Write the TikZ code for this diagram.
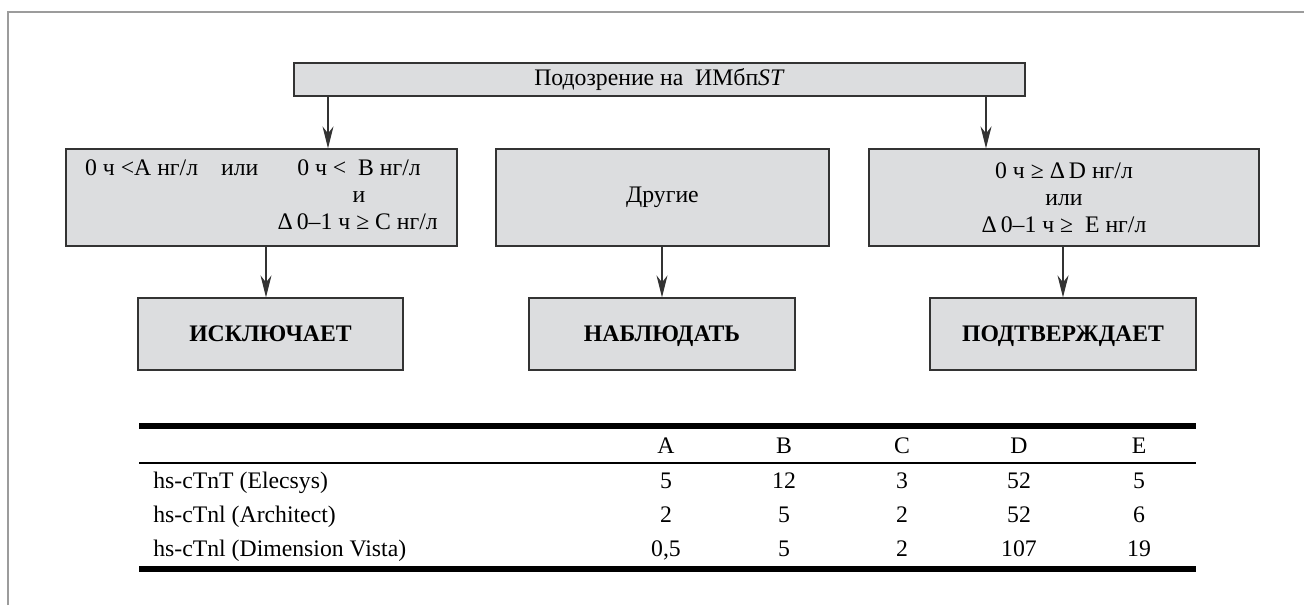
\documentclass[tikz,border=0pt]{standalone}
\usepackage{fontspec}
\setmainfont{Liberation Serif}
\usetikzlibrary{arrows.meta}

\definecolor{boxgray}{HTML}{DCDDDF}
\definecolor{framegray}{HTML}{9C9C9C}
\definecolor{edgegray}{HTML}{333333}

\begin{document}
\begin{tikzpicture}[x=0.02cm,y=-0.02cm,
              box/.style={draw=edgegray,fill=boxgray,line width=0.7pt,inner sep=0pt,
                align=center,font=\fontsize{13.5}{15.3}\selectfont},
              result/.style={box,minimum height=1.44cm,text height=9pt,text depth=0pt,
                font=\fontsize{13.5}{15.3}\selectfont\bfseries},
              arr/.style={draw=edgegray,line width=0.6pt,
                -{Stealth[length=0.44cm,width=0.22cm,inset=0.14cm]}},
              cell/.style={inner sep=0pt,anchor=base,font=\fontsize{13.5}{15.3}\selectfont}]
              \useasboundingbox (0,0) rectangle (1304,605);
              \draw[framegray,line width=1.4pt] (8,605) -- (8,12) -- (1304,12);
              \node[box,minimum width=14.62cm,minimum height=0.66cm] (Top) at (659.5,79.5)
                {Подозрение на\ \ ИМбп\textit{ST}};
              \node[box,minimum width=7.82cm,minimum height=1.94cm] (Excl) at (261.5,197.5)
                {\begin{tabular}{@{}l@{\hspace{0.46cm}}l@{\hspace{0.78cm}}c@{\hspace{0.34cm}}}
                  0 ч <A нг/л & или & 0 ч <\enspace B нг/л\\
                  & & и\\
                  \multicolumn{3}{@{}r@{}}{Δ\,0–1 ч ≥ C нг/л}
                 \end{tabular}};
              \node[box,minimum width=6.66cm,minimum height=1.94cm] (Other) at (662.5,197.5) {Другие};
              \node[box,minimum width=7.8cm,minimum height=1.94cm] (Conf) at (1064,197.5)
                {0 ч ≥ Δ\,D нг/л\\или\\Δ\,0–1 ч ≥\ \ E нг/л};
              \node[result,minimum width=5.3cm] (RuleOut) at (270.5,334) {ИСКЛЮЧАЕТ};
              \node[result,minimum width=5.32cm] (Watch) at (662,334) {НАБЛЮДАТЬ};
              \node[result,minimum width=5.32cm] (RuleIn) at (1063,334) {ПОДТВЕРЖДАЕТ};
              \coordinate (xl) at (328,0);
              \coordinate (xr) at (986,0);
              \draw[arr] (Top.south -| xl) -- (Excl.north -| xl);
              \draw[arr] (Top.south -| xr) -- (Conf.north -| xr);
              \draw[arr] (Excl.south -| 266,0) -- (RuleOut.north -| 266,0);
              \draw[arr] (Other.south -| Watch) -- (Watch);
              \draw[arr] (Conf.south -| RuleIn) -- (RuleIn);
              \draw[line width=3.1pt] (139,426) -- (1196,426);
              \draw[line width=0.8pt] (139,463) -- (1196,463);
              \draw[line width=2.9pt] (139,569) -- (1196,569);
              \foreach \h/\x in {A/666,B/784,C/902,D/1019,E/1139}
                \node[cell] (H\h) at (\x,453) {\h};
              \foreach \lab/\a/\b/\c/\d/\e [count=\r] in {hs-cTnT (Elecsys)/5/12/3/52/5,
                  hs-cTnl (Architect)/2/5/2/52/6, hs-cTnl (Dimension Vista)/{0,5}/5/2/107/19} {
                \node[cell,anchor=base west] (L\r) at (153,{454+34*\r}) {\lab};
                \foreach \v/\x [count=\k] in {\a/666,\b/784,\c/902,\d/1019,\e/1139}
                  \node[cell] (V\r\k) at (\x,{454+34*\r}) {\v};
              }
            \end{tikzpicture}
\end{document}
